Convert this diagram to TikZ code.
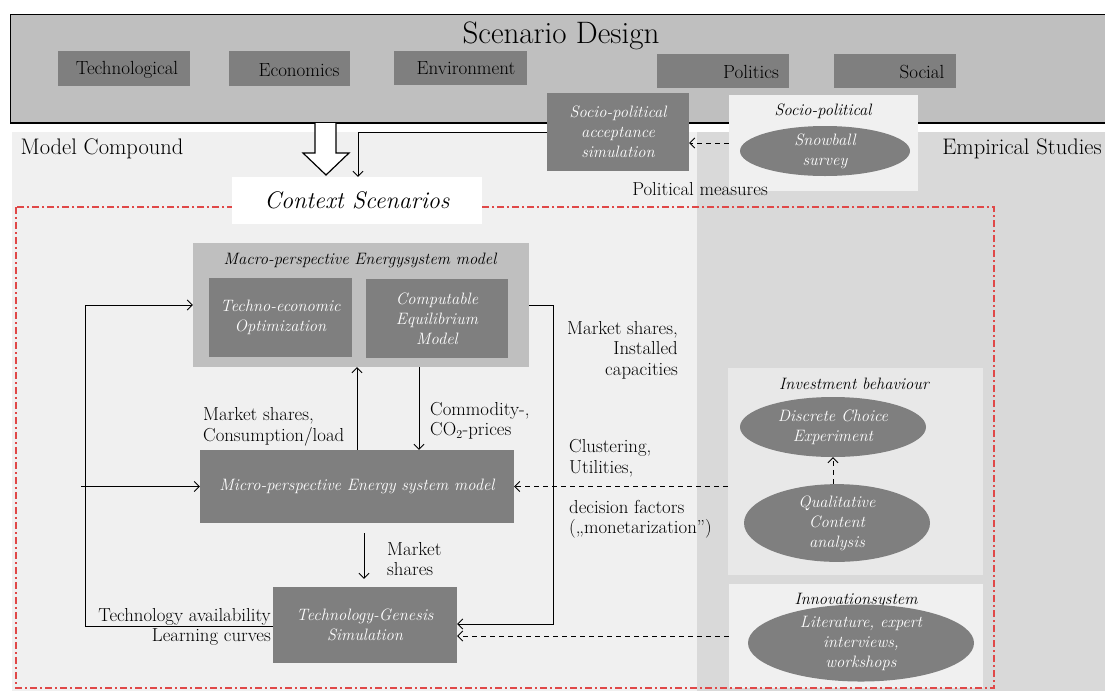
\documentclass[tikz,border=0pt]{standalone}
\usepackage{fontspec}
\usetikzlibrary{arrows.meta,shapes.geometric,calc}
\definecolor{bandgray}{HTML}{BFBFBF}
\definecolor{boxgray}{HTML}{7F7F7F}
\definecolor{lightbg}{HTML}{F0F0F0}
\definecolor{darkbg}{HTML}{D9D9D9}
\definecolor{invbg}{HTML}{E8E8E8}
\definecolor{redline}{HTML}{E04848}
\tikzset{
  darkbox/.style={fill=boxgray, text=white, font=\fontsize{16.5}{20}\selectfont\itshape, align=center, inner sep=1pt},
  catbox/.style={fill=boxgray, inner sep=0pt},
  cattext/.style={font=\fontsize{19}{22}\selectfont, text=black, inner sep=0pt},
  ell/.style={ellipse, fill=boxgray, text=white, font=\fontsize{16.5}{20}\selectfont\itshape, align=center, inner sep=0pt},
  panel/.style={inner sep=0pt},
  ptitle/.style={font=\fontsize{16.5}{19}\selectfont\itshape, text=black, inner sep=0pt},
  lbl/.style={font=\fontsize{18.8}{20.5}\selectfont, text=black, inner sep=0pt},
  arr/.style={-{Straight Barb[length=5pt,width=10pt]}, line width=0.9pt},
  plain/.style={line width=0.9pt},
  darr/.style={arr, dash pattern=on 5pt off 4pt},
}
\begin{document}
\begin{tikzpicture}[x=1pt,y=-1pt]
\useasboundingbox (0,0) rectangle (1105,691);
\fill[white] (0,0) rectangle (1105,691);
% backgrounds
\fill[lightbg] (12,132) rectangle (697,691);
\fill[darkbg] (697,132) rectangle (1105,691);
% scenario band
\fill[bandgray] (10,14) rectangle (1105,123);
\draw[line width=0.8pt] (1105,14) -- (10,14) -- (10,123);
\draw[line width=2pt] (10,122.5) -- (1105,122.5);
\node[font=\fontsize{31}{34}\selectfont, inner sep=0pt] (sd) at (561,36) {Scenario Design};
\node[catbox, minimum width=132, minimum height=35] (ctech) at (124,68.5) {};
\node[catbox, minimum width=121, minimum height=35] (cecon) at (289.5,68.5) {};
\node[catbox, minimum width=133, minimum height=34] (cenv) at (460.5,68) {};
\node[catbox, minimum width=132, minimum height=34] (cpol) at (723,71) {};
\node[catbox, minimum width=122, minimum height=34] (csoc) at (895,71) {};
\node[cattext] at (127,70) {Technological};
\node[cattext] at (299,70) {Economics};
\node[cattext] at (466,68) {Environment};
\node[cattext] at (751,72) {Politics};
\node[cattext] at (922,72) {Social};
% section titles
\node[font=\fontsize{22.5}{26}\selectfont, inner sep=0pt] (mc) at (102,149) {Model Compound};
\node[font=\fontsize{22.5}{26}\selectfont, inner sep=0pt] (es) at (1022,149) {Empirical Studies};
% socio-political
\node[darkbox, minimum width=142, minimum height=78] (accept) at (618,132) {Socio-political\\acceptance\\simulation};
\node[panel, fill=lightbg, minimum width=189, minimum height=96] (spbox) at (823.5,143) {};
\node[ptitle] at (823,111) {Socio-political};
\node[ell, minimum width=170, minimum height=50] (snow) at (825,151) {Snowball\\survey};
\draw[darr] (spbox.west) -- (spbox.west -| accept.east);
\node[lbl] (polm) at (700,189) {Political measures};
% investment behaviour
\node[panel, fill=invbg, minimum width=255, minimum height=207] (inv) at (855.5,471.5) {};
\node[ptitle] at (854,384) {Investment behaviour};
\node[ell, minimum width=186, minimum height=60] (dce) at (833,427) {Discrete Choice\\Experiment};
\node[ell, minimum width=186, minimum height=58] (qca) at (837,523) {Qualitative\\Content\\analysis};
\draw[darr] (qca.north -| dce.south) -- (dce.south);
% innovation system
\node[panel, fill=lightbg, minimum width=254, minimum height=104] (innov) at (856,636) {};
\node[ptitle] at (856,601) {Innovationsystem};
\node[ell, minimum width=226, minimum height=60] (lit) at (861,643) {Literature, expert\\interviews,\\workshops};
% red frame
\draw[redline, line width=1.4pt, dash pattern=on 7pt off 3pt on 2pt off 3pt] (16,207) rectangle (994,688);
% context scenarios
\node[fill=white, minimum width=250, minimum height=47, font=\fontsize{24}{28}\selectfont\itshape, inner sep=0pt] (ctx) at (357,200.5) {Context Scenarios};
\draw[fill=white, line width=1.2pt] (315,123) -- (315,153) -- (303,153) -- (326,175) -- (349,153) -- (336,153) -- (336,123);
\draw[arr] (accept.west) -| ($(ctx.north)+(1,0)$);
% macro model
\node[panel, fill=bandgray, minimum width=336, minimum height=124] (macro) at (361,305) {};
\node[ptitle] at (360,260) {Macro-perspective Energysystem model};
\node[darkbox, minimum width=143, minimum height=79] (teo) at (280.5,317.5) {Techno-economic\\Optimization};
\node[darkbox, minimum width=142, minimum height=79] (cge) at (437,318.5) {Computable\\Equilibrium\\Model};
% micro and tech
\node[darkbox, minimum width=314, minimum height=73] (micro) at (357,486.5) {Micro-perspective Energy system model};
\node[darkbox, minimum width=184, minimum height=76] (tgs) at (365,625) {Technology-Genesis\\Simulation};
% connectors
\draw[arr] (micro.north) -- (micro.north |- macro.south);
\draw[arr] ($(macro.south)+(58,0)$) -- ($(micro.north)+(62,0)$);
\coordinate (L) at (85,305);
\coordinate (stub) at (81,486.5);
\draw[plain] ($(tgs.west)+(0,1)$) -| (L);
\draw[arr] (L) -- (macro.west);
\draw[arr] (stub) -- (micro.west);
\coordinate (R) at (553,305);
\draw[arr] (macro.east) -- (R) |- ($(tgs.east)+(0,-1)$);
\draw[arr] ($(micro.south)+(7,10)$) -- ($(tgs.north)+(-1,-8)$);
\draw[darr] (micro.east -| inv.west) -- (micro.east);
\draw[darr] ($(tgs.east -| innov.west)+(0,11)$) -- ($(tgs.east)+(0,11)$);
% labels
\node[lbl, align=left, anchor=west] (l1) at (203,427) {Market shares,\\Consumption/load};
\node[lbl, align=left, anchor=west] (l2) at (430,421) {Commodity-,\\CO$_2$-prices};
\node[lbl, align=right, anchor=east] (l3) at (678,350) {Market shares,\\Installed\\capacities};
\node[lbl, align=left, anchor=west] (l4) at (569,458) {Clustering,\\Utilities,};
\node[lbl, align=left, anchor=west] (l5) at (569,519) {decision factors\\(„monetarization”)};
\node[lbl, align=left, anchor=west] (l6) at (387,559) {Market\\shares};
\node[lbl, align=right, anchor=east] (l7) at (271,627) {Technology availability\\Learning curves};
\end{tikzpicture}
\end{document}
